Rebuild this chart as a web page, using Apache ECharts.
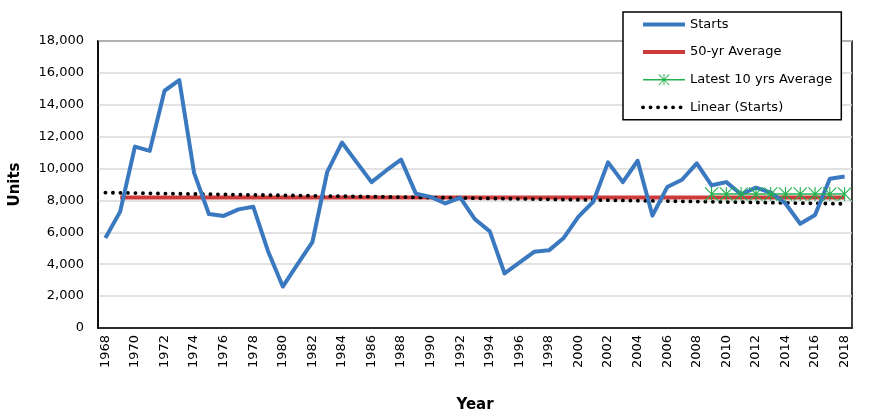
<!DOCTYPE html>
<html>
<head>
<meta charset="utf-8">
<script src="https://cdn.jsdelivr.net/npm/echarts@6/dist/echarts.min.js"></script>
<style>html,body{margin:0;padding:0;background:#fff}#c{width:870px;height:418px}</style>
</head>
<body>
<div id="c"></div>
<script>
const years = ['1968','1969','1970','1971','1972','1973','1974','1975','1976','1977','1978','1979','1980','1981','1982','1983','1984','1985','1986','1987','1988','1989','1990','1991','1992','1993','1994','1995','1996','1997','1998','1999','2000','2001','2002','2003','2004','2005','2006','2007','2008','2009','2010','2011','2012','2013','2014','2015','2016','2017','2018'];
const starts = [5650,7300,11380,11110,14880,15540,9730,7150,7030,7440,7610,4820,2600,4000,5380,9770,11630,10390,9150,9880,10560,8430,8220,7810,8180,6820,6060,3420,4100,4780,4870,5650,6990,7920,10390,9150,10490,7050,8840,9300,10330,8950,9150,8390,8800,8490,7810,6540,7090,9360,9500];
const avg50Years = ['1969','2018'];
const avg50Value = 8190;
const avg10Years = ['2009','2010','2011','2012','2013','2014','2015','2016','2017','2018'];
const avg10Value = 8400;
const trendYears = ['1968','2018'];
const trendValues = [8490, 7790];
const yTicks = {min: 0, max: 18000, interval: 2000};

const FONT = '"DejaVu Sans", sans-serif';
const starPath = 'path://M9.2,0L10.8,0L10.8,20L9.2,20Z M0,1.1L1.1,0L20,18.9L18.9,20Z M18.9,0L20,1.1L1.1,20L0,18.9Z';
const dotted = [0.1, 7.4];

const chart = echarts.init(document.getElementById('c'), null, {renderer: 'canvas'});
chart.setOption({
  animation: false,
  backgroundColor: '#fff',
  grid: {left: 96, right: 18, top: 41, bottom: 85, show: true, borderColor: '#000', borderWidth: 1.5, backgroundColor: 'transparent'},
  legend: {
    orient: 'vertical',
    left: 623, top: 12,
    padding: [6, 9, 6, 18],
    itemGap: 14.6,
    itemWidth: 42, itemHeight: 14,
    backgroundColor: '#fff',
    borderColor: '#000', borderWidth: 1.5,
    textStyle: {fontFamily: FONT, fontSize: 13, color: '#000'},
    data: [
      {name: 'Starts', itemStyle: {opacity: 0}, lineStyle: {width: 4, color: '#3a78bf'}},
      {name: '50-yr Average', itemStyle: {opacity: 0}, lineStyle: {width: 4, color: '#cc3a3a'}},
      {name: 'Latest 10 yrs Average', lineStyle: {width: 1.5, color: '#22b14c'}},
      {name: 'Linear (Starts)', itemStyle: {opacity: 0}, lineStyle: {width: 3.8, color: '#000', type: dotted, cap: 'round'}}
    ]
  },
  xAxis: {
    type: 'category',
    data: years,
    boundaryGap: true,
    name: 'Year', nameLocation: 'middle', nameGap: 70,
    nameTextStyle: {fontFamily: FONT, fontSize: 15, fontWeight: 'bold', color: '#000'},
    axisLine: {show: true, lineStyle: {color: '#000', width: 1.5}},
    axisTick: {show: false},
    axisLabel: {rotate: 90, interval: 1, fontFamily: FONT, fontSize: 13, color: '#000', margin: 7},
    splitLine: {show: false}
  },
  yAxis: {
    type: 'value',
    min: yTicks.min, max: yTicks.max, interval: yTicks.interval,
    name: 'Units', nameLocation: 'middle', nameGap: 75,
    nameTextStyle: {fontFamily: FONT, fontSize: 15, fontWeight: 'bold', color: '#000'},
    axisLine: {show: true, lineStyle: {color: '#000', width: 1.5}},
    axisTick: {show: false},
    axisLabel: {fontFamily: FONT, fontSize: 13, color: '#000', margin: 14,
      formatter: v => v.toLocaleString('en-US')},
    splitLine: {show: true, lineStyle: {color: '#d9d9d9', width: 1.5}}
  },
  series: [
    {
      name: 'Starts', type: 'line', data: starts,
      showSymbol: false, symbol: 'none',
      lineStyle: {color: '#3a78bf', width: 4, join: 'round'},
      itemStyle: {color: '#3a78bf'},
      z: 3
    },
    {
      name: '50-yr Average', type: 'line',
      data: avg50Years.map(y => [y, avg50Value]),
      symbol: 'none',
      lineStyle: {color: '#cc3a3a', width: 4},
      itemStyle: {color: '#cc3a3a'},
      z: 2
    },
    {
      name: 'Latest 10 yrs Average', type: 'line',
      data: avg10Years.map(y => [y, avg10Value]),
      symbol: starPath, symbolSize: 14, showSymbol: true, showAllSymbol: true,
      lineStyle: {color: '#22b14c', width: 1.5},
      itemStyle: {color: '#22b14c', borderWidth: 0},
      z: 4
    },
    {
      name: 'Linear (Starts)', type: 'line',
      data: trendYears.map((y, i) => [y, trendValues[i]]),
      symbol: 'none',
      lineStyle: {color: '#000', width: 3.8, type: dotted, cap: 'round'},
      itemStyle: {color: '#000'},
      z: 2
    }
  ]
});
</script>
</body>
</html>
